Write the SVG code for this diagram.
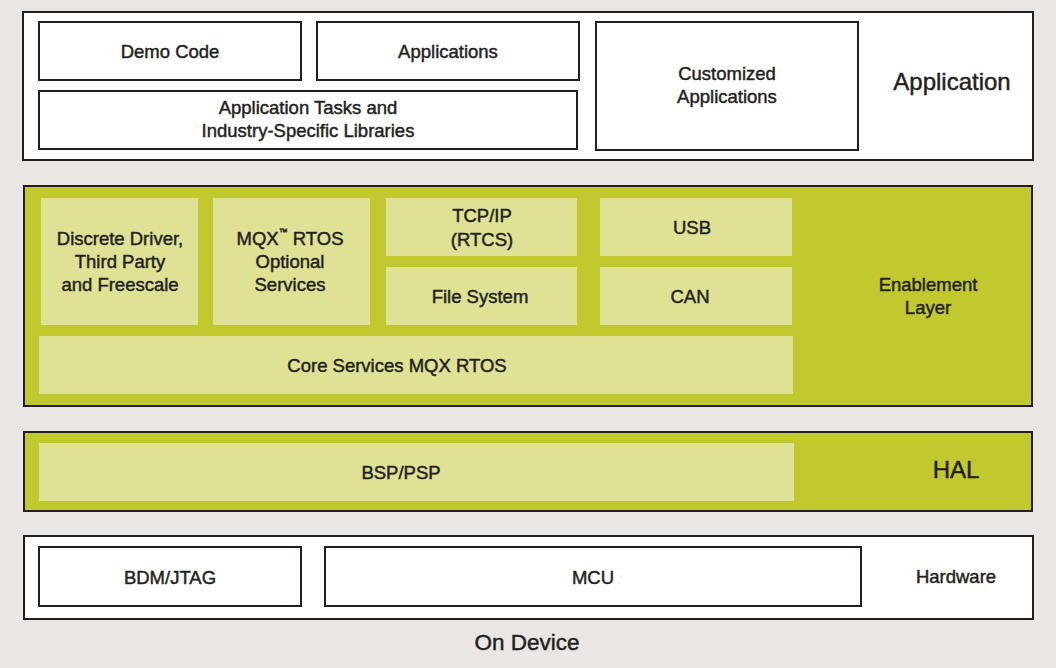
<svg xmlns="http://www.w3.org/2000/svg" width="1056" height="668" viewBox="0 0 1056 668">
<style>
text{font-family:"Liberation Sans",Arial,sans-serif;fill:#231F20;stroke:#231F20;stroke-width:0.45;text-anchor:middle;dominant-baseline:central}
.t{font-size:18.5px}
.big{font-size:24px}
.w{fill:#fff;stroke:#231F20;stroke-width:2}
.g{fill:#C2C92F;stroke:#231F20;stroke-width:2}
.l{fill:#DFE194}
</style>
<rect width="1056" height="668" fill="#EAE6E3"/>
<g id="application">
<rect class="w" x="23" y="12" width="1010" height="148"/>
<text class="big" x="952" y="81">Application</text>
</g>
<g id="demo"><rect class="w" x="39" y="22" width="262" height="58"/><text class="t" x="170" y="51">Demo Code</text></g>
<g id="apps"><rect class="w" x="317" y="22" width="262" height="58"/><text class="t" x="448" y="51">Applications</text></g>
<g id="tasks"><rect class="w" x="39" y="91" width="538" height="58"/><text class="t" x="308" y="107">Application Tasks and</text><text class="t" x="308" y="130">Industry-Specific Libraries</text></g>
<g id="custom"><rect class="w" x="596" y="22" width="262" height="128"/><text class="t" x="727" y="73">Customized</text><text class="t" x="727" y="96">Applications</text></g>

<g id="enablement">
<rect class="g" x="24" y="186" width="1008" height="220"/>
<text class="t" x="928" y="284">Enablement</text><text class="t" x="928" y="307">Layer</text>
</g>
<g id="discrete"><rect class="l" x="41" y="198" width="157" height="127"/><text class="t" x="120" y="238">Discrete Driver,</text><text class="t" x="120" y="261">Third Party</text><text class="t" x="120" y="284">and Freescale</text></g>
<g id="mqx"><rect class="l" x="213" y="198" width="157" height="127"/><text class="t" x="290" y="238">MQX<tspan font-size="9" dy="-6">™</tspan><tspan dy="6"> RTOS</tspan></text><text class="t" x="290" y="261">Optional</text><text class="t" x="290" y="284">Services</text></g>
<g id="tcpip"><rect class="l" x="386" y="198" width="191" height="58"/><text class="t" x="482" y="215">TCP/IP</text><text class="t" x="482" y="239">(RTCS)</text></g>
<g id="filesystem"><rect class="l" x="386" y="267" width="191" height="58"/><text class="t" x="480" y="296">File System</text></g>
<g id="usb"><rect class="l" x="600" y="198" width="192" height="58"/><text class="t" x="692" y="227">USB</text></g>
<g id="can"><rect class="l" x="600" y="267" width="192" height="58"/><text class="t" x="690" y="296">CAN</text></g>
<g id="core"><rect class="l" x="39" y="336" width="754" height="58"/><text class="t" x="397" y="365">Core Services MQX RTOS</text></g>

<g id="hal">
<rect class="g" x="24" y="432" width="1008" height="79"/>
<text class="big" x="956" y="469">HAL</text>
</g>
<g id="bsp"><rect class="l" x="39" y="443" width="755" height="58"/><text class="t" x="401" y="472">BSP/PSP</text></g>

<g id="hardware">
<rect class="w" x="24" y="536" width="1009" height="83"/>
<text class="t" x="956" y="576">Hardware</text>
</g>
<g id="bdm"><rect class="w" x="39" y="547" width="262" height="59"/><text class="t" x="170" y="577">BDM/JTAG</text></g>
<g id="mcu"><rect class="w" x="325" y="547" width="536" height="59"/><text class="t" x="593" y="577">MCU</text></g>

<text x="527" y="642" font-size="22.5">On Device</text>
<g id="connectors"></g>
</svg>
